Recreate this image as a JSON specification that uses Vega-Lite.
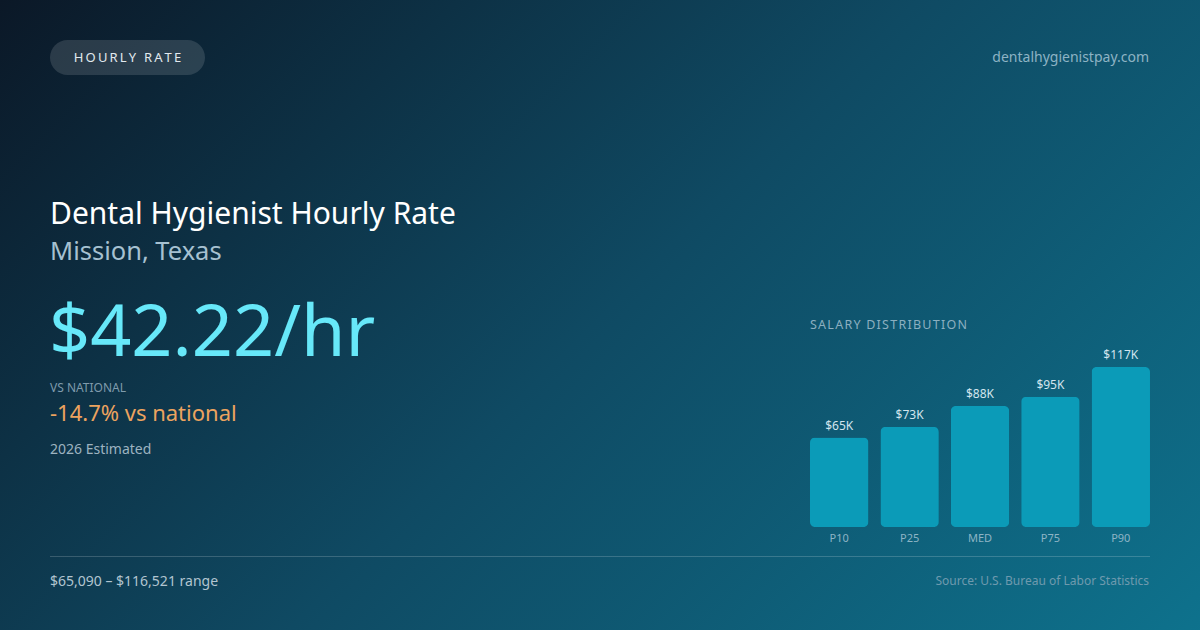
{
  "$schema": "https://vega.github.io/schema/vega-lite/v6.json",
  "width": 1200,
  "height": 630,
  "padding": 0,
  "autosize": "none",
  "background": "#0e3a50",
  "config": {
    "view": {"stroke": null},
    "font": "Noto Sans",
    "text": {"font": "Noto Sans"}
  },
  "datasets": {
    "salary": [
      {"pct": "P10", "salary": 65090, "label": "$65K"},
      {"pct": "P25", "salary": 72900, "label": "$73K"},
      {"pct": "MED", "salary": 88100, "label": "$88K"},
      {"pct": "P75", "salary": 94800, "label": "$95K"},
      {"pct": "P90", "salary": 116521, "label": "$117K"}
    ],
    "one": [{}]
  },
  "layer": [
    {
      "data": {"name": "one"},
      "mark": {
        "type": "rect",
        "x": 0, "x2": 1200, "y": 0, "y2": 630,
        "color": {
          "gradient": "linear",
          "x1": 0, "y1": 0, "x2": 1.2, "y2": 0.63,
          "stops": [
            {"offset": 0, "color": "#0b1827"},
            {"offset": 0.5, "color": "#0f4a63"},
            {"offset": 1, "color": "#0e728d"}
          ]
        }
      },
      "encoding": {}
    },
    {
      "data": {"name": "one"},
      "mark": {"type": "rect", "x": 50, "x2": 205, "y": 40, "y2": 75, "cornerRadius": 17.5, "fill": "#ffffff", "fillOpacity": 0.13},
      "encoding": {}
    },
    {
      "data": {"name": "one"},
      "mark": {"type": "text", "text": "H\u2006O\u2006U\u2006R\u2006L\u2006Y\u2006 \u2006R\u2006A\u2006T\u2006E", "x": 127.5, "y": 58, "align": "center", "baseline": "middle", "fontSize": 13, "color": "#e2e9ee"},
      "encoding": {}
    },
    {
      "data": {"name": "one"},
      "mark": {"type": "text", "text": "dentalhygienistpay.com", "x": 1149, "y": 58, "align": "right", "baseline": "middle", "fontSize": 14, "color": "#8db3c4"},
      "encoding": {}
    },
    {
      "data": {"name": "one"},
      "mark": {"type": "text", "text": "Dental Hygienist Hourly Rate", "x": 50, "y": 224, "align": "left", "baseline": "alphabetic", "fontSize": 30, "color": "#ffffff"},
      "encoding": {}
    },
    {
      "data": {"name": "one"},
      "mark": {"type": "text", "text": "Mission, Texas", "x": 50, "y": 260, "align": "left", "baseline": "alphabetic", "fontSize": 25.5, "color": "#a6c1d1"},
      "encoding": {}
    },
    {
      "data": {"name": "one"},
      "mark": {"type": "text", "text": "$42.22/hr", "x": 49, "y": 356, "align": "left", "baseline": "alphabetic", "fontSize": 72, "color": "#67e8f9"},
      "encoding": {}
    },
    {
      "data": {"name": "one"},
      "mark": {"type": "text", "text": "VS NATIONAL", "x": 50, "y": 392, "align": "left", "baseline": "alphabetic", "fontSize": 12, "color": "#7f9bac"},
      "encoding": {}
    },
    {
      "data": {"name": "one"},
      "mark": {"type": "text", "text": "-14.7% vs national", "x": 50, "y": 421, "align": "left", "baseline": "alphabetic", "fontSize": 22, "color": "#eca35f"},
      "encoding": {}
    },
    {
      "data": {"name": "one"},
      "mark": {"type": "text", "text": "2026 Estimated", "x": 50, "y": 454, "align": "left", "baseline": "alphabetic", "fontSize": 14, "color": "#9db3c0"},
      "encoding": {}
    },
    {
      "data": {"name": "one"},
      "mark": {"type": "rule", "stroke": "#ffffff", "strokeOpacity": 0.18, "strokeWidth": 1},
      "encoding": {
        "x": {"value": 50},
        "x2": {"value": 1150},
        "y": {"value": 556.5}
      }
    },
    {
      "data": {"name": "one"},
      "mark": {"type": "text", "text": "$65,090 – $116,521 range", "x": 50, "y": 586, "align": "left", "baseline": "alphabetic", "fontSize": 14, "color": "#b2c5d0"},
      "encoding": {}
    },
    {
      "data": {"name": "one"},
      "mark": {"type": "text", "text": "Source: U.S. Bureau of Labor Statistics", "x": 1149, "y": 585, "align": "right", "baseline": "alphabetic", "fontSize": 12, "color": "#6e9aae"},
      "encoding": {}
    },
    {
      "data": {"name": "one"},
      "mark": {"type": "text", "text": "S\u200aA\u200aL\u200aA\u200aR\u200aY\u200a \u200aD\u200aI\u200aS\u200aT\u200aR\u200aI\u200aB\u200aU\u200aT\u200aI\u200aO\u200aN", "x": 810, "y": 325, "align": "left", "baseline": "middle", "fontSize": 12.5, "color": "#8cafc0"},
      "encoding": {}
    },
    {
      "data": {"name": "salary"},
      "layer": [
        {
          "mark": {"type": "bar", "cornerRadius": 5, "color": "#0b9bb8"},
          "encoding": {
            "y": {
              "field": "salary", "type": "quantitative", "axis": null,
              "scale": {"domain": [0, 116521], "range": [527, 367], "nice": false, "zero": true}
            }
          }
        },
        {
          "mark": {"type": "text", "baseline": "alphabetic", "dy": -8, "fontSize": 12, "color": "#d3e5ee"},
          "encoding": {
            "y": {"field": "salary", "type": "quantitative", "axis": null},
            "text": {"field": "label"}
          }
        },
        {
          "mark": {"type": "text", "baseline": "middle", "dy": 12, "fontSize": 11, "color": "#8db4c5"},
          "encoding": {
            "y": {"datum": 0, "type": "quantitative", "axis": null},
            "text": {"field": "pct"}
          }
        }
      ],
      "encoding": {
        "x": {
          "field": "pct", "type": "nominal", "sort": null, "axis": null,
          "scale": {"type": "band", "domain": ["P10", "P25", "MED", "P75", "P90"], "range": [810, 1150], "paddingInner": 0.17, "paddingOuter": 0}
        }
      }
    }
  ],
  "encoding": {}
}
